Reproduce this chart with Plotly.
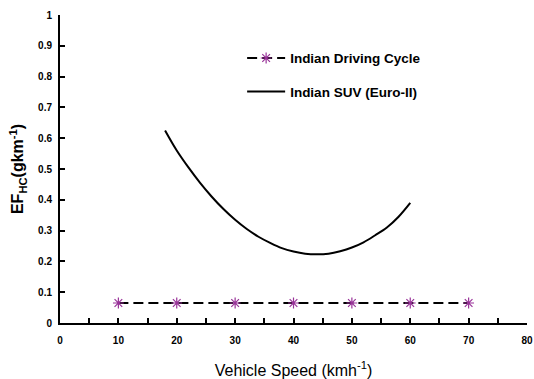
import plotly.graph_objects as go

# Indian Driving Cycle
idc_speed = [10, 20, 30, 40, 50, 60, 70]
idc_ef = [0.065, 0.065, 0.065, 0.065, 0.065, 0.065, 0.065]

# Indian SUV (Euro-II) curve
suv_speed = [18, 20, 22, 24, 26, 28, 30, 32, 34, 36, 38, 40, 42, 44, 46, 48, 50, 52, 54, 56, 58, 60]
suv_ef = [0.625, 0.56, 0.505, 0.455, 0.41, 0.37, 0.335, 0.305, 0.28, 0.26, 0.243, 0.232,
          0.225, 0.223, 0.225, 0.233, 0.245, 0.262, 0.285, 0.31, 0.345, 0.39]

x_ticks = [0, 10, 20, 30, 40, 50, 60, 70, 80]
y_ticks = [0, 0.1, 0.2, 0.3, 0.4, 0.5, 0.6, 0.7, 0.8, 0.9, 1]
y_ticklabels = ["0", "0.1", "0.2", "0.3", "0.4", "0.5", "0.6", "0.7", "0.8", "0.9", "1"]

fig = go.Figure()
fig.add_trace(go.Scatter(
    x=idc_speed, y=idc_ef, mode="lines+markers", name="Indian Driving Cycle",
    line=dict(color="black", width=2, dash="10px,5px"),
    marker=dict(symbol="asterisk-open", size=9, color="#993399", line=dict(color="#993399", width=1.2)),
    legendgroup="a",
))
fig.add_trace(go.Scatter(
    x=suv_speed, y=suv_ef, mode="lines", name="Indian SUV (Euro-II)",
    line=dict(color="black", width=2, shape="spline"),
    legendgroup="b",
))

fig.update_layout(
    width=534, height=379,
    margin=dict(l=60, r=7, t=15, b=56),
    paper_bgcolor="white", plot_bgcolor="white",
    font=dict(family="Arial, Liberation Sans, sans-serif", color="black"),
    showlegend=True,
    legend=dict(
        x=0.39, y=0.91, xanchor="left", yanchor="top",
        font=dict(size=13.5, family="Arial, Liberation Sans, sans-serif", color="black", weight="bold"),
        bgcolor="rgba(0,0,0,0)", tracegroupgap=13, itemwidth=38,
    ),
    xaxis=dict(
        range=[0, 80], tickvals=x_ticks, ticktext=[str(v) for v in x_ticks],
        showline=True, linecolor="black", linewidth=2, showgrid=False, zeroline=False,
        ticks="inside", ticklen=5, tickwidth=1.5, tickcolor="black",
        minor=dict(dtick=5, ticks="inside", ticklen=5, tickwidth=1.5, tickcolor="black", showgrid=False),
        tickfont=dict(size=10, weight="bold"), ticklabelstandoff=7,
        automargin=False,
        title=dict(text="Vehicle Speed (kmh<sup>-1</sup>)", font=dict(size=16), standoff=20),
    ),
    yaxis=dict(
        range=[0, 1], tickvals=y_ticks, ticktext=y_ticklabels,
        showline=True, linecolor="black", linewidth=2, showgrid=False, zeroline=False,
        ticks="inside", ticklen=5, tickwidth=1.5, tickcolor="black",
        tickfont=dict(size=10, weight="bold"), ticklabelstandoff=4,
        automargin=False,
        title=dict(text="<b>EF<sub>HC</sub>(gkm<sup>-1</sup>)</b>", font=dict(size=16), standoff=10),
    ),
)

fig.write_html("out.html")
